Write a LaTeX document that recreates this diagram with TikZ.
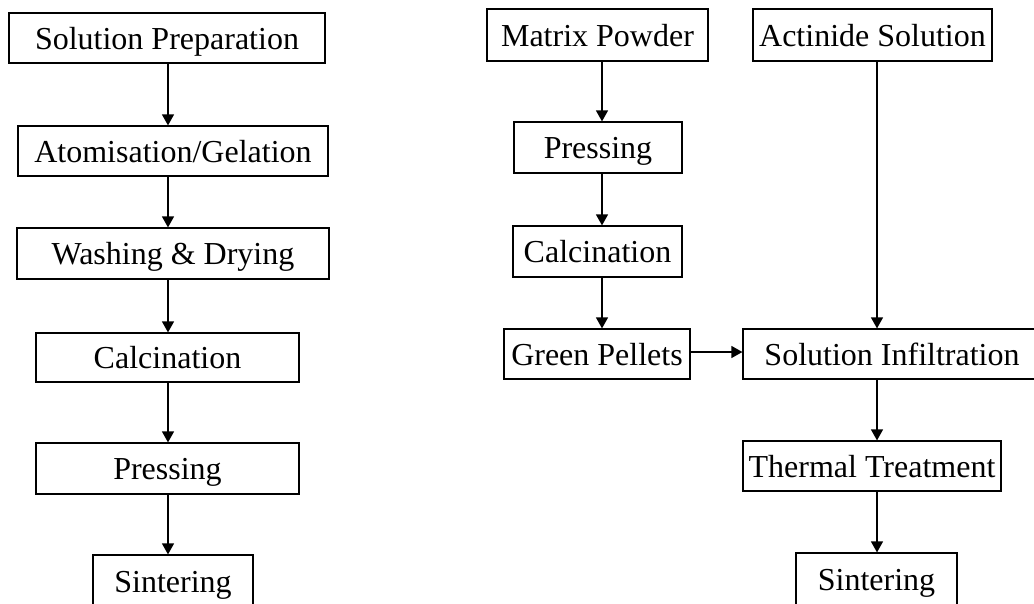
\documentclass[tikz,border=0pt]{standalone}
\usepackage{fontspec}
\setmainfont{Liberation Serif}
\usetikzlibrary{arrows.meta}
\begin{document}
\begin{tikzpicture}[x=1pt,y=-1pt,
  box/.style={draw, line width=1.2pt, inner sep=0pt, text height=22pt, text depth=0pt,
    font=\fontsize{32}{36}\selectfont},
  flow/.style={line width=1.2pt, -{Triangle[length=11pt,width=12pt]}}]
\useasboundingbox (0,0) rectangle (1034,603);
% left column
\node[box, minimum width=316pt, minimum height=50pt] (sp) at (167,38) {Solution Preparation};
\node[box, minimum width=310pt, minimum height=50pt] (ag) at (173,151) {Atomisation/Gelation};
\node[box, minimum width=312pt, minimum height=51pt] (wd) at (173,253.5) {Washing \& Drying};
\node[box, minimum width=263pt, minimum height=49pt] (calL) at (167.5,357.5) {Calcination};
\node[box, minimum width=263pt, minimum height=51pt] (prL) at (167.5,468.5) {Pressing};
\node[box, minimum width=160pt, minimum height=52pt] (sinL) at (173,581) {Sintering};
% right part
\node[box, minimum width=221pt, minimum height=52pt] (mp) at (597.5,35) {Matrix Powder};
\node[box, minimum width=239pt, minimum height=52pt] (as) at (872.5,35) {Actinide Solution};
\node[box, minimum width=168pt, minimum height=51pt] (prR) at (598,147.5) {Pressing};
\node[box, minimum width=169pt, minimum height=51pt] (calR) at (597.5,251.5) {Calcination};
\node[box, minimum width=186pt, minimum height=50pt] (gp) at (597,354) {Green Pellets};
\node[box, minimum width=298pt, minimum height=50pt] (si) at (892,354) {Solution Infiltration};
\node[box, minimum width=258pt, minimum height=50pt] (tt) at (872,466) {Thermal Treatment};
\node[box, minimum width=161pt, minimum height=52pt] (sinR) at (876.5,579) {Sintering};
% column guides
\coordinate (cL) at (168,0);
\coordinate (cM) at (602,0);
\coordinate (cR) at (877,0);
\coordinate (hy) at (0,352);
% connectors
\draw[flow] (sp.south -| cL) -- (ag.north -| cL);
\draw[flow] (ag.south -| cL) -- (wd.north -| cL);
\draw[flow] (wd.south -| cL) -- (calL.north -| cL);
\draw[flow] (calL.south -| cL) -- (prL.north -| cL);
\draw[flow] (prL.south -| cL) -- (sinL.north -| cL);
\draw[flow] (mp.south -| cM) -- (prR.north -| cM);
\draw[flow] (prR.south -| cM) -- (calR.north -| cM);
\draw[flow] (calR.south -| cM) -- (gp.north -| cM);
\draw[flow] (gp.east |- hy) -- (si.west |- hy);
\draw[flow] (as.south -| cR) -- (si.north -| cR);
\draw[flow] (si.south -| cR) -- (tt.north -| cR);
\draw[flow] (tt.south -| cR) -- (sinR.north -| cR);
\end{tikzpicture}
\end{document}
